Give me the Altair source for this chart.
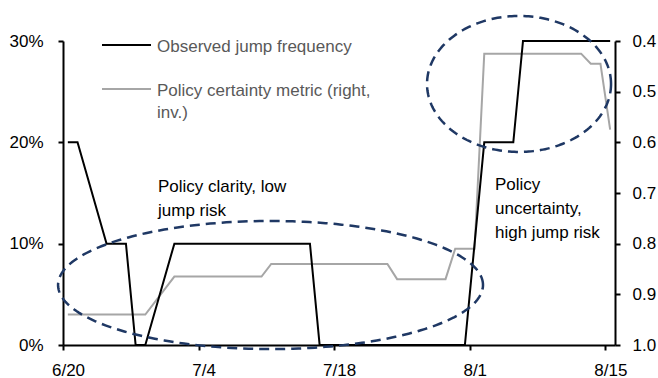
import altair as alt
import numpy as np
import pandas as pd

FONT = "Liberation Sans, Arial, sans-serif"
FS = 17

# Observed jump frequency (left axis)
jump_dates = ["2025-06-20", "2025-06-21", "2025-06-24", "2025-06-26", "2025-06-27",
              "2025-06-28", "2025-07-01", "2025-07-15", "2025-07-16", "2025-07-31",
              "2025-08-02", "2025-08-05", "2025-08-06", "2025-08-15"]
jump_values = [0.20, 0.20, 0.10, 0.10, 0.0, 0.0, 0.10, 0.10, 0.0, 0.0,
               0.20, 0.20, 0.30, 0.30]

# Policy certainty metric (right axis, inverted)
policy_dates = ["2025-06-20", "2025-06-28", "2025-07-01", "2025-07-10", "2025-07-11",
                "2025-07-23", "2025-07-24", "2025-07-29", "2025-07-30", "2025-08-01",
                "2025-08-02", "2025-08-12", "2025-08-13", "2025-08-14", "2025-08-15"]
policy_values = [0.94, 0.94, 0.865, 0.865, 0.84, 0.84, 0.87, 0.87, 0.81, 0.81,
                 0.425, 0.425, 0.445, 0.445, 0.575]

series_names = ["Observed jump frequency", "Policy certainty metric (right,", "inv.)"]
left_ticks = [0.0, 0.1, 0.2, 0.3]
right_ticks = [0.4, 0.5, 0.6, 0.7, 0.8, 0.9, 1.0]
x_ticks = [(2025, 6, 20), (2025, 7, 4), (2025, 7, 18), (2025, 8, 1), (2025, 8, 15)]
x_start = (2025, 6, 20)
x_end = (2025, 8, 16)

# Highlight ellipses (centre / radius in days after the start date and in left-axis units)
ellipse_names = ["clarity", "uncertainty"]
ellipse_cx_days = [21.43, 47.09]
ellipse_rx_days = [21.94, 9.50]
ellipse_cy = [0.0592, 0.2576]
ellipse_ry = [0.0632, 0.0671]

BLACK = "#000000"
GREY = "#a6a6a6"
NAVY = "#1f3864"
LEGEND_TEXT = "#595959"

half_day = pd.Timedelta(hours=12)
jump_df = pd.DataFrame({"date": pd.to_datetime(jump_dates) + half_day, "value": jump_values})
policy_df = pd.DataFrame({"date": pd.to_datetime(policy_dates) + half_day, "value": policy_values})

start = pd.Timestamp("%04d-%02d-%02d" % x_start)
theta = np.linspace(0, 2 * np.pi, 241)
rows = []
for name, cx, rx, cy, ry in zip(ellipse_names, ellipse_cx_days, ellipse_rx_days, ellipse_cy, ellipse_ry):
    for i, t in enumerate(theta):
        rows.append({
            "name": name,
            "i": i,
            "date": start + pd.Timedelta(days=float(cx + rx * np.cos(t))),
            "value": float(cy + ry * np.sin(t)),
        })
ellipse_df = pd.DataFrame(rows)

dt = lambda d: alt.DateTime(year=d[0], month=d[1], date=d[2])
x_scale = alt.Scale(domain=[dt(x_start), dt(x_end)])
axis_style = dict(title=None, tickSize=5, labelFontSize=FS, labelFont=FONT,
                  labelColor="#000000", domainColor="#000000", tickColor="#000000",
                  domainWidth=2, tickWidth=2, grid=False, labelFlush=False)
x_axis = alt.Axis(values=[dt(d) for d in x_ticks], format="%-m/%-d",
                  labelOffset=5, labelPadding=12, labelOverlap=False, **axis_style)
x_enc = alt.X("date:T", scale=x_scale, axis=x_axis)
left_scale = alt.Scale(domain=[0, 0.3], nice=False, zero=False)

jump_line = alt.Chart(jump_df).mark_line(color=BLACK, strokeWidth=2).encode(
    x=x_enc,
    y=alt.Y("value:Q", scale=left_scale,
            axis=alt.Axis(values=left_ticks, format=".0%", orient="left",
                          labelPadding=15, **axis_style)),
)

policy_line = alt.Chart(policy_df).mark_line(color=GREY, strokeWidth=2).encode(
    x=x_enc,
    y=alt.Y("value:Q", scale=alt.Scale(domain=[0.4, 1.0], reverse=True, nice=False, zero=False),
            axis=alt.Axis(values=right_ticks, format=".1f", orient="right",
                          labelPadding=12, **axis_style)),
)

ellipses = alt.Chart(ellipse_df).mark_line(
    color=NAVY, strokeWidth=2.5, strokeDash=[10, 6], clip=False
).encode(
    x=x_enc,
    y=alt.Y("value:Q", scale=left_scale, axis=None),
    detail="name:N",
    order="i:Q",
)

one = pd.DataFrame({"k": [0]})

legend_line_1 = alt.Chart(one).mark_rule(color=BLACK, strokeWidth=2).encode(
    x=alt.value(39), x2=alt.value(88), y=alt.value(4))
legend_text_1 = alt.Chart(one).mark_text(
    text=series_names[0], align="left", baseline="alphabetic", font=FONT,
    fontSize=FS, color=LEGEND_TEXT).encode(x=alt.value(94), y=alt.value(11))
legend_line_2 = alt.Chart(one).mark_rule(color=GREY, strokeWidth=2).encode(
    x=alt.value(39), x2=alt.value(88), y=alt.value(48))
legend_text_2 = alt.Chart(one).mark_text(
    text=series_names[1:], align="left", baseline="alphabetic", font=FONT,
    fontSize=FS, lineHeight=22, color=LEGEND_TEXT).encode(x=alt.value(94), y=alt.value(55))

note_clarity = alt.Chart(one).mark_text(
    text=["Policy clarity, low", "jump risk"], align="left", baseline="alphabetic",
    font=FONT, fontSize=FS, lineHeight=24, color=BLACK).encode(x=alt.value(95), y=alt.value(151))
note_uncertainty = alt.Chart(one).mark_text(
    text=["Policy", "uncertainty,", "high jump risk"], align="left", baseline="alphabetic",
    font=FONT, fontSize=FS, lineHeight=24, color=BLACK).encode(x=alt.value(432), y=alt.value(149))

chart = alt.layer(
    policy_line, jump_line, ellipses,
    legend_line_1, legend_text_1, legend_line_2, legend_text_2,
    note_clarity, note_uncertainty,
).resolve_scale(y="independent").properties(
    width=552, height=304,
    padding={"left": 63, "top": 41, "right": 43, "bottom": 33},
    autosize=alt.AutoSizeParams(type="none"),
    view=alt.ViewBackground(stroke="transparent", strokeWidth=0),
).configure_view(stroke="transparent", strokeWidth=0).configure_axis(
    gridOpacity=0).configure(font=FONT)

chart.save("out.html", embed_options={"renderer": "svg", "actions": False})
